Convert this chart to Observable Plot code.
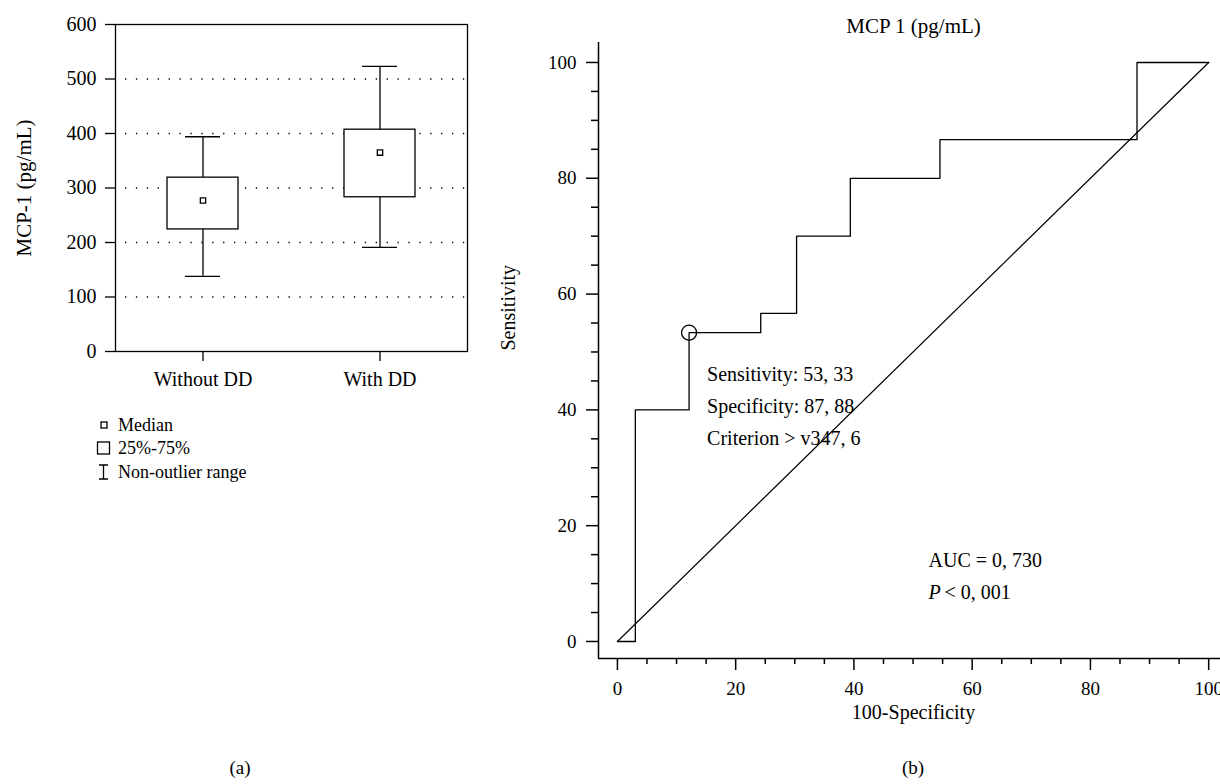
<!DOCTYPE html>
<html><head><meta charset="utf-8">
<script src="https://cdn.jsdelivr.net/npm/d3@7"></script>
<script src="https://cdn.jsdelivr.net/npm/@observablehq/plot@0.6"></script>
<style>
body{margin:0;background:#fff;font-family:"Liberation Serif",serif;color:#000;}
#root{position:relative;width:1220px;height:784px;overflow:hidden;}
.abs{position:absolute;white-space:nowrap;}
.leg{position:absolute;left:96px;font-size:18px;line-height:20px;display:flex;align-items:center;}
.leg svg{width:16px;height:20px;margin-right:6px;}
svg{overflow:visible;}
</style></head><body><div id="root"></div>
<script>
// ---- Panel (a): box plot data ----
const groups = ["Without DD", "With DD"];
const whiskerLow = [138, 191];
const q1 = [224, 283];
const medians = [277, 365];
const q3 = [319, 407];
const whiskerHigh = [394, 523];
const boxTicks = [0, 100, 200, 300, 400, 500, 600];
const boxGrid = [100, 200, 300, 400, 500];

// ---- Panel (b): ROC data ----
const fpr = [0, 3.03, 12.12, 24.24, 30.30, 39.39, 54.55, 87.88, 100];
const tpr = [0, 40, 53.33, 56.67, 70, 80, 86.67, 100, 100];
const chance = [0, 100];
const cutoffFpr = 12.12, cutoffTpr = 53.33;
const rocTicks = [0, 20, 40, 60, 80, 100];
const rocMinor = [5, 10, 15, 25, 30, 35, 45, 50, 55, 65, 70, 75, 85, 90, 95];
const annotLines = ["Sensitivity: 53, 33", "Specificity: 87, 88", "Criterion > v347, 6"];

const root = document.getElementById("root");
const font = "Liberation Serif, serif";
const SW = 1.3;

const boxData = groups.map((g, i) => ({group: g, lo: whiskerLow[i], q1: q1[i], med: medians[i], q3: q3[i], hi: whiskerHigh[i]}));

const left = Plot.plot({
  width: 480, height: 400,
  marginLeft: 115, marginRight: 13, marginTop: 24, marginBottom: 49,
  style: {fontFamily: font, fontSize: "20px", color: "#000", background: "transparent", overflow: "visible"},
  x: {type: "band", domain: groups, paddingInner: 0.6, paddingOuter: 0.294, label: null},
  y: {domain: [0, 600], label: null},
  marks: [
    Plot.gridY(boxGrid, {stroke: "#000", strokeOpacity: 1, strokeWidth: 1.3, strokeDasharray: "1.3 9.6", strokeDashoffset: -10}),
    Plot.ruleX(boxData, {x: "group", y1: "lo", y2: "q1", stroke: "#000", strokeWidth: SW}),
    Plot.ruleX(boxData, {x: "group", y1: "q3", y2: "hi", stroke: "#000", strokeWidth: SW}),
    Plot.tickY(boxData, {x: "group", y: "hi", insetLeft: 18, insetRight: 18, stroke: "#000", strokeWidth: SW}),
    Plot.tickY(boxData, {x: "group", y: "lo", insetLeft: 18, insetRight: 18, stroke: "#000", strokeWidth: SW}),
    Plot.barY(boxData, {x: "group", y1: "q1", y2: "q3", fill: "white", stroke: "#000", strokeWidth: SW}),
    Plot.dot(boxData, {x: "group", y: "med", symbol: "square", r: 3, fill: "white", stroke: "#000", strokeWidth: SW}),
    Plot.frame({stroke: "#000", strokeWidth: SW}),
    Plot.axisY(boxTicks, {tickSize: 10, tickPadding: 9, label: null, strokeWidth: SW, fontSize: 20}),
    Plot.axisX({tickSize: 10, tickPadding: 10, label: null, strokeWidth: SW, fontSize: 20}),
    Plot.text(["MCP-1 (pg/mL)"], {frameAnchor: "left", rotate: -90, dx: -91, fontSize: 21, textAnchor: "middle", lineAnchor: "middle"})
  ]
});
left.style.position = "absolute"; left.style.left = "0px"; left.style.top = "0px";
root.appendChild(left);

// legend for panel (a)
const legendItems = [
  {label: "Median", icon: '<rect x="5" y="7" width="6" height="6" fill="none" stroke="#000" stroke-width="1.3"/>'},
  {label: "25%-75%", icon: '<rect x="1.5" y="4" width="12" height="12" fill="none" stroke="#000" stroke-width="1.3"/>'},
  {label: "Non-outlier range", icon: '<path d="M3 3H12M7.5 3V17M3 17H12" fill="none" stroke="#000" stroke-width="1.3"/>'}
];
const legendTops = [415, 438, 462];
legendItems.forEach((it, i) => {
  const d = document.createElement("div");
  d.className = "leg";
  d.style.top = legendTops[i] + "px";
  d.innerHTML = `<svg viewBox="0 0 16 20">${it.icon}</svg><span>${it.label}</span>`;
  root.appendChild(d);
});

// ---- Panel (b) ----
const rocData = fpr.map((f, i) => ({fpr: f, tpr: tpr[i]}));
const xDom = [-3.2, 102], yDom = [-2.94, 103.45];
const right = Plot.plot({
  width: 730, height: 740,
  marginLeft: 108, marginRight: 0, marginTop: 42, marginBottom: 82,
  style: {fontFamily: font, fontSize: "19px", color: "#000", background: "transparent", overflow: "visible"},
  x: {domain: xDom, label: null},
  y: {domain: yDom, label: null},
  marks: [
    Plot.ruleX([xDom[0]], {stroke: "#000", strokeWidth: 1.5}),
    Plot.ruleY([yDom[0]], {stroke: "#000", strokeWidth: 1.5}),
    Plot.axisY(rocTicks, {tickSize: 12, tickPadding: 10, label: null, strokeWidth: 1.5, fontSize: 19}),
    Plot.axisY(rocMinor, {tickSize: 7, tickFormat: () => "", label: null, strokeWidth: 1.5}),
    Plot.axisX(rocTicks, {tickSize: 12, tickPadding: 11, label: null, strokeWidth: 1.5, fontSize: 19}),
    Plot.axisX(rocMinor, {tickSize: 6, tickFormat: () => "", label: null, strokeWidth: 1.5}),
    Plot.line(chance, {x: d => d, y: d => d, stroke: "#000", strokeWidth: 1.2}),
    Plot.line(rocData, {x: "fpr", y: "tpr", curve: "step-after", stroke: "#000", strokeWidth: 1.3}),
    Plot.dot([{fpr: cutoffFpr, tpr: cutoffTpr}], {x: "fpr", y: "tpr", r: 7.5, fill: "none", stroke: "#000", strokeWidth: 1.3}),
    Plot.text([annotLines.join("\n")], {x: () => cutoffFpr, y: () => cutoffTpr, dx: 18, dy: 26, textAnchor: "start", lineAnchor: "top", lineHeight: 1.6, fontSize: 20}),
    Plot.text(["AUC = 0, 730"], {frameAnchor: "bottom-right", dx: -292, dy: -98, textAnchor: "start", lineAnchor: "middle", fontSize: 20}),
    Plot.text(["P"], {frameAnchor: "bottom-right", dx: -292, dy: -66, textAnchor: "start", lineAnchor: "middle", fontSize: 20, fontStyle: "italic"}),
    Plot.text(["< 0, 001"], {frameAnchor: "bottom-right", dx: -276, dy: -66, textAnchor: "start", lineAnchor: "middle", fontSize: 20}),
    Plot.text(["MCP 1 (pg/mL)"], {frameAnchor: "top", dx: 4, dy: -16, lineAnchor: "middle", fontSize: 21}),
    Plot.text(["100-Specificity"], {frameAnchor: "bottom", dx: 4, dy: 54, lineAnchor: "middle", fontSize: 20}),
    Plot.text(["Sensitivity"], {frameAnchor: "left", rotate: -90, dx: -90, lineAnchor: "middle", fontSize: 20})
  ]
});
right.style.position = "absolute"; right.style.left = "490px"; right.style.top = "0px";
root.appendChild(right);

// panel captions
[["(a)", 240], ["(b)", 913]].forEach(([t, cx]) => {
  const d = document.createElement("div");
  d.className = "abs";
  d.style.left = (cx - 30) + "px"; d.style.width = "60px"; d.style.textAlign = "center";
  d.style.top = "757px"; d.style.fontSize = "19px"; d.style.lineHeight = "22px";
  d.textContent = t;
  root.appendChild(d);
});
</script></body></html>
